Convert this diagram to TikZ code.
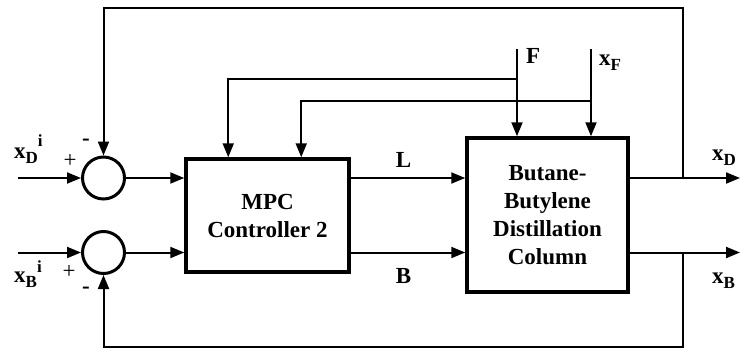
\documentclass[tikz,border=0pt]{standalone}
\usepackage{fontspec}
\setmainfont{Liberation Serif}
\usetikzlibrary{arrows.meta}
% subscript / superscript helpers for the signal names
\newcommand{\sgsub}[1]{\raisebox{-5pt}{\fontsize{17}{17}\selectfont\bfseries #1}}
\newcommand{\sgsup}[2]{\raisebox{#1}{\fontsize{17}{17}\selectfont\bfseries #2}}
\begin{document}
\begin{tikzpicture}[x=1pt,y=-1pt,
  wire/.style={line width=2pt},
  sig/.style={wire,-{Triangle[length=14pt,width=11pt]}},
  block/.style={draw,line width=3.5pt,inner sep=0pt,align=center,
    font=\bfseries\fontsize{23}{28}\selectfont},
  sumpt/.style={draw,circle,line width=3pt,minimum size=42pt,inner sep=0pt},
  lbl/.style={inner sep=0pt,font=\bfseries\fontsize{23}{28}\selectfont},
  sgn/.style={inner sep=0pt,font=\fontsize{23}{28}\selectfont}]
\useasboundingbox (0,0) rectangle (741,351);

% blocks
\node[block,minimum width=163pt,minimum height=113pt] (mpc) at (267.5,215.5) {MPC\\Controller 2};
\node[block,minimum width=161pt,minimum height=154pt] (col) at (547.5,215) {Butane-\\Butylene\\Distillation\\Column};

% summing junctions
\node[sumpt] (s1) at (103.5,178) {};
\node[sumpt] (s2) at (103.5,252.5) {};

% free ends and corners
\coordinate (inD) at (18,178);
\coordinate (inB) at (18,252.5);
\coordinate (outD) at (740,178);
\coordinate (outB) at (740,252.5);
\coordinate (tapD) at (683,178);
\coordinate (tapB) at (683,252.5);
\coordinate (topR) at (683,8);
\coordinate (botR) at (683,347);
\coordinate (Ftop) at (517,49);
\coordinate (Fbr) at (517,79);
\coordinate (xFtop) at (591,49);
\coordinate (xFbr) at (591,101);

% reference inputs
\draw[sig] (inD) -- (s1.west);
\draw[sig] (inB) -- (s2.west);

% errors into the controller
\draw[sig] (s1.east) -- (s1.east -| mpc.west);
\draw[sig] (s2.east) -- (s2.east -| mpc.west);

% manipulated variables L and B
\draw[sig] (s1 -| mpc.east) -- (s1 -| col.west);
\draw[sig] (s2 -| mpc.east) -- (s2 -| col.west);

% outputs
\draw[wire] (s1 -| col.east) -- (tapD);
\draw[sig] (tapD) -- (outD);
\draw[wire] (s2 -| col.east) -- (tapB);
\draw[sig] (tapB) -- (outB);

% feedback loops
\draw[sig] (tapD) -- (topR) -| (s1.north);
\draw[sig] (tapB) -- (botR) -| (s2.south);

% disturbances F and xF
\draw[sig] (Ftop) -- (Ftop |- col.north);
\draw[sig] (xFtop) -- (xFtop |- col.north);
\draw[sig] (Fbr) -| ([xshift=44pt]mpc.north west);
\draw[sig] (xFbr) -| ([xshift=117pt]mpc.north west);

% labels
\node[lbl,anchor=base west] (lxDi) at (14,158) {x\sgsub{D}\sgsup{12pt}{i}};
\node[lbl,anchor=base west] (lxBi) at (14,282) {x\sgsub{B}\sgsup{10pt}{i}};
\node[sgn] (p1) at (70,161) {+};
\node[sgn] (p2) at (69,272) {+};
\node[lbl] (m1) at (86,142) {-};
\node[lbl] (m2) at (86,290) {-};
\node[lbl,anchor=base] (lL) at (403.5,167) {L};
\node[lbl,anchor=base] (lB) at (403.5,283) {B};
\node[lbl,anchor=base west] (lF) at (526,63) {F};
\node[lbl,anchor=base west] (lxF) at (599,65) {x\sgsub{F}};
\node[lbl,anchor=base west] (lxD) at (712,160) {x\sgsub{D}};
\node[lbl,anchor=base west] (lxB) at (712,283) {x\sgsub{B}};
\end{tikzpicture}
\end{document}
